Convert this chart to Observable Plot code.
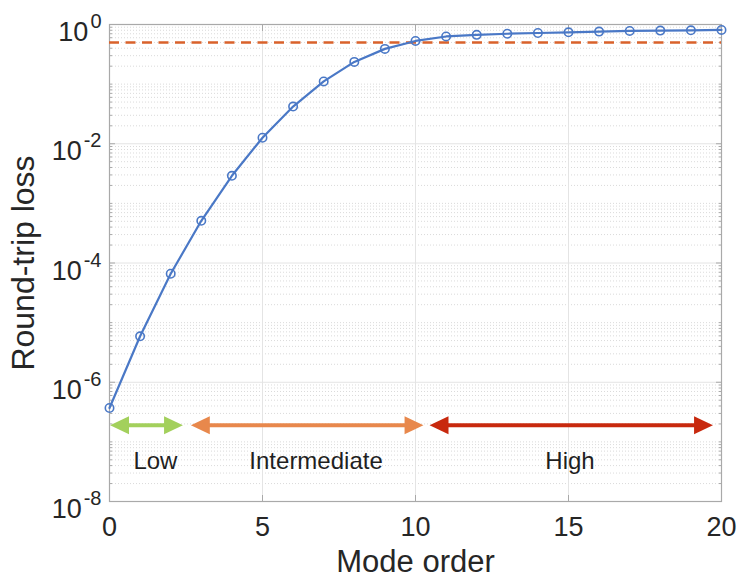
<!DOCTYPE html>
<html><head><meta charset="utf-8">
<script src="https://cdn.jsdelivr.net/npm/d3@7"></script>
<script src="https://cdn.jsdelivr.net/npm/@observablehq/plot@0.6"></script>
<style>body{margin:0;background:#fff;}</style>
</head><body><div id="chart"></div>
<script>
// ---- data ----
const modeOrder = [0,1,2,3,4,5,6,7,8,9,10,11,12,13,14,15,16,17,18,19,20];
const roundTripLoss = [3.7e-7, 5.9e-6, 6.6e-5, 5.1e-4, 2.9e-3, 1.26e-2, 4.2e-2, 0.111, 0.236, 0.39, 0.53,
                       0.63, 0.67, 0.70, 0.72, 0.74, 0.76, 0.78, 0.79, 0.80, 0.81];
const threshold = 0.5;
const regionNames = ["Low", "Intermediate", "High"];
const regionStart = [0.02, 2.66, 10.46];
const regionEnd = [2.4, 10.26, 19.72];
const regionColors = ["#a3d05c", "#e8884c", "#c8290e"];
const regionLabelX = [1.5, 6.75, 15.05];
const regionArrowY = 1.9e-7;
const regionLabelY = 4.7e-8;
const xTicks = [0, 5, 10, 15, 20];
const yExponents = [0, -2, -4, -6, -8];
const xGrid = [5, 10, 15];

// ---- derived ----
const idx = modeOrder.map((_, i) => i);
const rIdx = regionNames.map((_, i) => i);
const majorY = yExponents.map(e => 10 ** e);
const minorY = [];
for (let k = -8; k < 0; k++) for (let m = 1; m < 10; m++) {
  if (m === 1 && k % 2 === 0) continue;
  minorY.push(m * 10 ** k);
}
const axisColor = "#a9a9a9";
const gridColor = "#e4e4e4";
const blue = "#4a78c6";

const rightHead = {draw(ctx, size) {const s = Math.sqrt(size / Math.PI); ctx.moveTo(0, 0); ctx.lineTo(-2.1 * s, -s); ctx.lineTo(-2.1 * s, s); ctx.closePath();}};
const leftHead = {draw(ctx, size) {const s = Math.sqrt(size / Math.PI); ctx.moveTo(0, 0); ctx.lineTo(2.1 * s, -s); ctx.lineTo(2.1 * s, s); ctx.closePath();}};

const chart = Plot.plot({
  width: 740, height: 579,
  marginLeft: 109, marginRight: 19, marginTop: 24, marginBottom: 78,
  x: {domain: [0, 20]},
  y: {type: "log", domain: [1e-8, 1]},
  color: {type: "identity"},
  style: {fontFamily: "'Liberation Sans', Arial, Helvetica, sans-serif", color: "#262626", background: "#fff"},
  marks: [
    Plot.ruleY(minorY, {stroke: "#d0d0d0", strokeDasharray: "1,2", strokeWidth: 0.8}),
    Plot.ruleY(majorY, {stroke: gridColor}),
    Plot.ruleX(xGrid, {stroke: gridColor}),
    Plot.axisY(majorY, {anchor: "left", tickSize: -6, tickFormat: () => "", label: null, stroke: axisColor}),
    Plot.axisY(majorY, {anchor: "right", tickSize: -6, tickFormat: () => "", label: null, stroke: axisColor}),
    Plot.axisY(minorY, {anchor: "left", tickSize: -3, tickFormat: () => "", label: null, stroke: axisColor}),
    Plot.axisY(minorY, {anchor: "right", tickSize: -3, tickFormat: () => "", label: null, stroke: axisColor}),
    Plot.axisX(xTicks, {anchor: "bottom", tickSize: -6, tickFormat: () => "", label: null, stroke: axisColor}),
    Plot.axisX(xTicks, {anchor: "top", tickSize: -6, tickFormat: () => "", label: null, stroke: axisColor}),
    Plot.frame({stroke: axisColor, strokeWidth: 1.2}),
    Plot.ruleY([threshold], {x1: 0, x2: 20, stroke: "#d9622b", strokeWidth: 2.5, strokeDasharray: "10,6.5"}),
    Plot.line(idx, {x: i => modeOrder[i], y: i => roundTripLoss[i], stroke: blue, strokeWidth: 2.2}),
    Plot.dot(idx, {x: i => modeOrder[i], y: i => roundTripLoss[i], r: 4.2, stroke: blue, strokeWidth: 1.6, fill: "none"}),
    Plot.ruleY(rIdx, {y: () => regionArrowY, x1: i => regionStart[i], x2: i => regionEnd[i], stroke: i => regionColors[i], strokeWidth: 4, insetLeft: 12, insetRight: 12}),
    Plot.dot(rIdx, {x: i => regionEnd[i], y: () => regionArrowY, symbol: rightHead, r: 9, fill: i => regionColors[i], stroke: null}),
    Plot.dot(rIdx, {x: i => regionStart[i], y: () => regionArrowY, symbol: leftHead, r: 9, fill: i => regionColors[i], stroke: null}),
    Plot.text(rIdx, {x: i => regionLabelX[i], y: () => regionLabelY, text: i => regionNames[i], fontSize: 24, fill: "#1f1f1f"}),
    Plot.text(xTicks, {x: d => d, frameAnchor: "bottom", lineAnchor: "middle", dy: 26, text: d => String(d), fontSize: 27, fill: "#262626"}),
    Plot.text(yExponents, {y: e => 10 ** e, frameAnchor: "left", lineAnchor: "middle", dx: -8, dy: 8, textAnchor: "end", text: e => "10^" + e, fontSize: 27, fill: "#262626"}),
    Plot.text(["Round-trip loss"], {frameAnchor: "left", lineAnchor: "middle", dx: -86, rotate: -90, textAnchor: "middle", fontSize: 32, fill: "#262626"}),
    Plot.text(["Mode order"], {frameAnchor: "bottom", lineAnchor: "middle", dy: 61, textAnchor: "middle", fontSize: 31, fill: "#262626"})
  ]
});
document.getElementById("chart").appendChild(chart);

d3.select(chart).selectAll("text").each(function () {
  const t = this.textContent;
  if (!t.includes("^")) return;
  const parts = t.split("^");
  this.textContent = parts[0];
  d3.select(this).append("tspan").attr("dx", 2).attr("dy", -13).attr("font-size", 20).text(parts[1]);
});
</script>
</body></html>
